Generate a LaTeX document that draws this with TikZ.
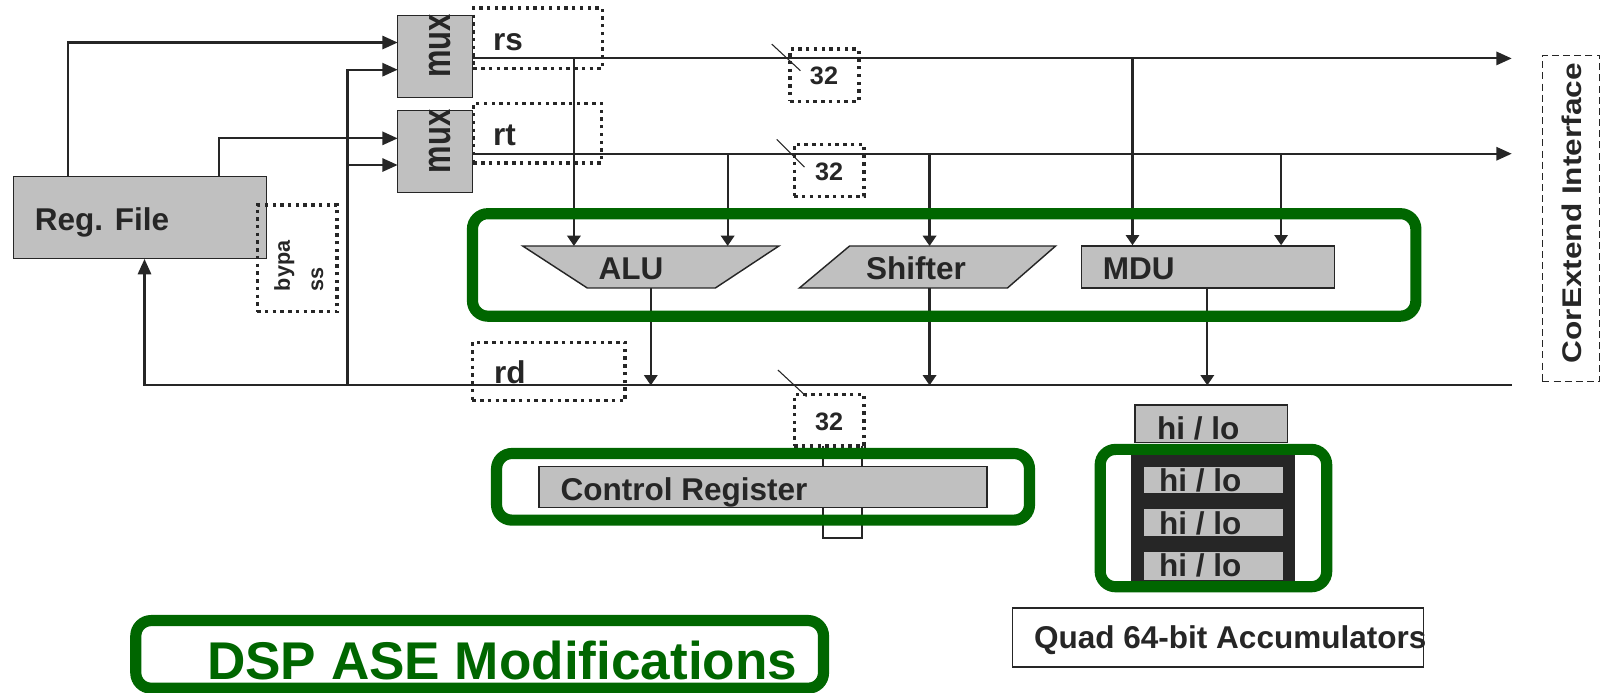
\documentclass[tikz,border=0pt]{standalone}
\usepackage{fontspec}
\setmainfont{Liberation Sans}
\usetikzlibrary{arrows.meta}
\usetikzlibrary{fit}
\definecolor{ink}{HTML}{262626}
\definecolor{boxgray}{HTML}{C0C0C0}
\definecolor{dspgreen}{HTML}{006600}

\begin{document}
\begin{tikzpicture}[x=0.02cm, y=-0.02cm, color=ink, line width=1.2pt,
  >={Triangle[length=0.3cm,width=0.26cm]},
  small/.style={-{Triangle[length=0.2cm,width=0.26cm]}},
  blk/.style={draw=ink, fill=boxgray, line width=0.8pt, inner sep=0pt},
  dotbox/.style={draw=ink, line width=1.9pt, dash pattern=on 1.9pt off 2.4pt, inner sep=0pt},
  grn/.style={draw=dspgreen, line width=6.2pt, rounded corners=0.3cm, inner sep=0pt},
  lbl/.style={text=ink, font=\fontsize{17.5}{20}\selectfont\bfseries, inner sep=0pt, anchor=base west},
  numlbl/.style={text=ink, font=\fontsize{14}{16}\selectfont\bfseries, inner sep=0pt},
  vlbl/.style={text=ink, inner sep=0pt, rotate=90}]
\useasboundingbox (0,0) rectangle (1568,676);

\coordinate (rsend) at (1475,57);
\coordinate (rtend) at (1475,150);
\coordinate (rdend) at (1475,376);
\coordinate (rdL) at (141,376);
\coordinate (bp) at (339,376);
\coordinate (m1a) at (388,41.5);
\coordinate (m1b) at (388,68);
\coordinate (m2a) at (388,135);
\coordinate (m2b) at (388,161);
\coordinate (rf1) at (66,172);
\coordinate (rf2) at (214,172);
\coordinate (s1) at (560,57);
\coordinate (s2) at (1105,57);
\coordinate (t1) at (710,150);
\coordinate (t2) at (907,150);
\coordinate (t3) at (1250,150);
\coordinate (alutop) at (635,240);
\coordinate (alubot) at (635,281);
\coordinate (shtop) at (907,240);
\coordinate (shbot) at (907,281);
\coordinate (mdubot) at (1178,281);

% register file, muxes, units
\node[blk, fit={(13,172) (260,252)}] (reg) {};
\node[blk, fit={(388,15) (461,95)}] (mux1) {};
\node[blk, fit={(388,108) (461,188)}] (mux2) {};
\node[blk, fit={(1055,240) (1302,281)}] (mdu) {};
\draw[blk] (510,240) -- (760,240) -- (698,281) -- (573,281) -- cycle;
\draw[blk] (829,240) -- (1030,240) -- (983,281) -- (780,281) -- cycle;

% wires
\draw[->] (rf1) |- (m1a);
\draw[->] (rf2) |- (m2a);
\draw[->] (bp) |- (m1b);
\draw[->] (bp |- m2b) -- (m2b);
\draw[->] (mux1.east |- rsend) -- (rsend);
\draw[->] (mux2.east |- rtend) -- (rtend);
\draw[->] (rdend) -- (rdL) -- (rdL |- reg.south);
\draw[small] (s1) -- (s1 |- alutop);
\draw[small] (s2) -- (s2 |- mdu.north);
\draw[small] (t1) -- (t1 |- alutop);
\draw[small] (t2) -- (shtop);
\draw[small] (t3) -- (t3 |- mdu.north);
\draw[small] (alubot) -- (alubot |- rdend);
\draw[small] (shbot) -- (shbot |- rdend);
\draw[small] (mdubot) -- (mdubot |- rdend);

% 32 bit marks
\draw[line width=0.6pt] (753,43) -- (781,69);
\draw[line width=0.6pt] (758,136) -- (785,163);
\draw[line width=0.6pt] (759,361) -- (787,387);
\node[dotbox, fit={(771,48) (838,99)}] (w1) {};
\node[dotbox, fit={(775,141) (843,192)}] (w2) {};
\node[dotbox, fit={(775,385) (843,435)}] (w3) {};
\node[numlbl] (w1l) at (804,74) {32};
\node[numlbl] (w2l) at (809,168) {32};
\node[numlbl] (w3l) at (809,412) {32};
\draw[line width=0.8pt] (803,435) -- (803,525) -- (841,525) -- (841,435);

% operand boxes
\node[dotbox, fit={(462,8) (588,67)}] (rsbox) {};
\node[dotbox, fit={(462,101) (587,159)}] (rtbox) {};
\node[dotbox, fit={(461,334) (610,391)}] (rdbox) {};
\node[dotbox, fit={(251,200) (329,304)}] (bypbox) {};

% control register and accumulators
\node[blk, fit={(526,455) (963,495)}] (creg) {};
\node[blk, fit={(1107.5,395) (1256,432)}] (hl0) {};
\node[fill=ink, inner sep=0pt, fit={(1104,444) (1264,567)}] (acc) {};
\node[blk, fit={(1115.5,455) (1253,482)}] (hl1) {};
\node[blk, fit={(1115.5,496) (1253,524)}] (hl2) {};
\node[blk, fit={(1115.5,538) (1253,567)}] (hl3) {};
\node[draw=ink, fill=white, line width=0.9pt, inner sep=0pt, fit={(988,593) (1389,651)}] (quad) {};
\node[draw=ink, line width=0.6pt, dash pattern=on 3.9pt off 2.3pt, inner sep=0pt, fit={(1505,54) (1561,372)}] (cx) {};

% green outlines
\node[grn, fit={(461,208.5) (1381.5,308.5)}] (ase) {};
\node[grn, fit={(484.5,442.5) (1004.5,507.5)}] (cregbox) {};
\node[grn, fit={(1073.5,438.5) (1294.5,572.5)}] (accbox) {};
\node[grn, fit={(132.5,605.5) (803.5,671.5)}] (dsp) {};

% labels
\node[lbl] (regl) at (33,224.5) {Reg. File};
\node[lbl] (rsl) at (480,49) {rs};
\node[lbl] (rtl) at (480,141.5) {rt};
\node[lbl] (rdl) at (481,374) {rd};
\node[lbl] (alul) at (583,273) {ALU};
\node[lbl] (shl) at (844,273) {Shifter};
\node[lbl] (mdul) at (1075,273) {MDU};
\node[lbl] (cregl) at (546,488) {Control Register};
\node[lbl] (hl0l) at (1128,428.6) {hi / lo};
\node[lbl] (hl1l) at (1130,479.7) {hi / lo};
\node[lbl] (hl2l) at (1130,522) {hi / lo};
\node[lbl] (hl3l) at (1130,562.7) {hi / lo};
\node[lbl] (quadl) at (1008,632.5) {Quad 64-bit Accumulators};
\node[lbl, text=dspgreen, font=\fontsize{29.5}{34}\selectfont\bfseries] (dspl) at (201,663) {DSP ASE Modifications};
\node[vlbl, font=\fontsize{22}{26}\selectfont\bfseries] (mux1l) at (429,45) {\scalebox{0.78}[1]{mux}};
\node[vlbl, font=\fontsize{22}{26}\selectfont\bfseries] (mux2l) at (429,138) {\scalebox{0.78}[1]{mux}};
\node[vlbl, align=left, font=\fontsize{12}{18.5}\selectfont\bfseries] (bypl) at (291.5,259.5) {bypa\\ss};
\node[vlbl, font=\fontsize{15}{18}\selectfont\bfseries] (cxl) at (1533.5,208) {\scalebox{1.17}[1]{CorExtend Interface}};
\end{tikzpicture}
\end{document}
